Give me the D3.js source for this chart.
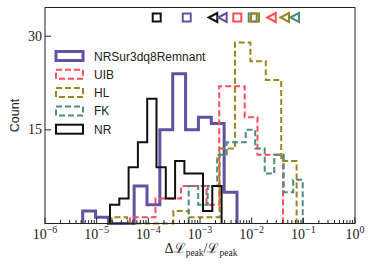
<!DOCTYPE html>
<html>
<head>
<meta charset="utf-8">
<script src="https://cdn.jsdelivr.net/npm/d3@7"></script>
<style>
  body { margin: 0; background: #fff; }
  svg { display: block; }
</style>
</head>
<body>
<svg id="chart" width="374" height="270"></svg>
<script>
// histogram bins: log10 of first / last edge, then counts per bin
const nrsurRange = [-5.27, -2.284]
const nrsurCounts = [2, 1, 0, 0, 6, 3, 15, 24, 15, 17, 16, 5]
const uibRange = [-4.355, -1.394]
const uibCounts = [1, 1, 4, 4, 6, 6, 3, 22, 22, 17, 11, 11]
const hlRange = [-4.709, -1.13]
const hlCounts = [1, 0, 0, 0, 2, 1, 1, 12, 29, 26, 23, 10]
const fkRange = [-3.219, -1.012]
const fkCounts = [6, 3, 6, 11, 13, 13, 15, 12, 8, 11, 5, 7]
const nrRange = [-4.742, -2.582]
const nrCounts = [3, 4, 9, 13, 20, 9, 4, 10, 8, 8, 2, 6]

// summary markers along the top (log10 values)
const squareNames = ['NR', 'NRSur3dq8Remnant', 'UIB', 'FK', 'HL']
const squareVals = [-3.838, -3.257, -2.278, -1.98, -1.935]
const triNames = ['NR', 'NRSur3dq8Remnant', 'UIB', 'HL', 'FK']
const triVals = [-2.743, -2.561, -1.612, -1.355, -1.161]

const legendNames = ['NRSur3dq8Remnant', 'UIB', 'HL', 'FK', 'NR']
const xTickExps = [-6, -5, -4, -3, -2, -1, 0]
const yTicks = [15, 30]

const styles = {
    'NRSur3dq8Remnant': { color: '#6152a3', width: 3, dash: null },
    'UIB': { color: '#ff4d5e', width: 2, dash: '6,3' },
    'HL': { color: '#9c851c', width: 2, dash: '6,3' },
    'FK': { color: '#4b8d79', width: 2, dash: '6,3' },
    'NR': { color: '#111111', width: 2, dash: null }
}

const series = [
    { name: 'NRSur3dq8Remnant', range: nrsurRange, counts: nrsurCounts },
    { name: 'UIB', range: uibRange, counts: uibCounts },
    { name: 'HL', range: hlRange, counts: hlCounts },
    { name: 'FK', range: fkRange, counts: fkCounts },
    { name: 'NR', range: nrRange, counts: nrCounts }
]

const plotL = 45, plotR = 355, plotT = 7.5, plotB = 223.5
const svg = d3.select('#chart')

const x = d3.scaleLog().domain([1e-6, 1]).range([plotL, plotR])
const y = d3.scaleLinear().domain([0, 34.6]).range([plotB, plotT])

// step outline of each histogram
series.forEach(function (s) {
    const n = s.counts.length
    const step = (s.range[1] - s.range[0]) / n
    const pts = [[s.range[0], 0]]
    s.counts.forEach(function (c, i) {
        const a = s.range[0] + i * step
        pts.push([a, c], [a + step, c])
    })
    pts.push([s.range[1], 0])
    const st = styles[s.name]
    svg.append('path')
        .attr('d', d3.line().x(d => x(Math.pow(10, d[0]))).y(d => y(d[1]))(pts))
        .attr('fill', 'none')
        .attr('stroke', st.color)
        .attr('stroke-width', st.width)
        .attr('stroke-dasharray', st.dash)
        .attr('stroke-linejoin', 'miter')
})

// frame
svg.append('rect')
    .attr('x', plotL).attr('y', plotT)
    .attr('width', plotR - plotL).attr('height', plotB - plotT)
    .attr('fill', 'none').attr('stroke', '#222').attr('stroke-width', 1)

// x ticks (inward), major + minor
const tickG = svg.append('g').attr('stroke', '#222').attr('stroke-width', 1)
xTickExps.forEach(function (e) {
    const xv = x(Math.pow(10, e))
    tickG.append('line').attr('x1', xv).attr('x2', xv).attr('y1', plotB).attr('y2', plotB - 6)
    if (e < 0) {
        for (let m = 2; m <= 9; m++) {
            const xm = x(m * Math.pow(10, e))
            tickG.append('line').attr('x1', xm).attr('x2', xm).attr('y1', plotB).attr('y2', plotB - 3.5)
        }
    }
})
yTicks.forEach(function (t) {
    tickG.append('line').attr('x1', plotL).attr('x2', plotL + 6).attr('y1', y(t)).attr('y2', y(t))
})

const serif = '"Liberation Serif", "DejaVu Serif", serif'
const sans = '"Liberation Sans", "DejaVu Sans", sans-serif'

xTickExps.forEach(function (e) {
    const t = svg.append('text')
        .attr('x', x(Math.pow(10, e)))
        .attr('y', 238.5)
        .attr('text-anchor', 'middle')
        .attr('font-family', serif)
        .attr('font-size', 14)
        .attr('fill', '#222')
    t.append('tspan').text('10')
    t.append('tspan').attr('dy', -6).attr('font-size', 10).text(e === 0 ? '0' : '\u2212' + (-e))
})

yTicks.forEach(function (t) {
    svg.append('text')
        .attr('x', 42).attr('y', y(t) + 4.5)
        .attr('text-anchor', 'end')
        .attr('font-family', serif)
        .attr('font-size', 14)
        .attr('fill', '#222')
        .text(t)
})

// axis labels
const xl = svg.append('text')
    .attr('x', 201).attr('y', 253)
    .attr('text-anchor', 'middle')
    .attr('font-family', serif)
    .attr('font-size', 14)
    .attr('fill', '#222')
xl.append('tspan').text('\u0394\u2112')
xl.append('tspan').attr('dy', 3).attr('font-size', 9.5).text('peak')
xl.append('tspan').attr('dy', -3).text('/\u2112')
xl.append('tspan').attr('dy', 3).attr('font-size', 9.5).text('peak')

svg.append('text')
    .attr('transform', 'translate(19,115.5) rotate(-90)')
    .attr('text-anchor', 'middle')
    .attr('font-family', sans)
    .attr('font-size', 12.5)
    .attr('fill', '#222')
    .text('Count')

// legend
legendNames.forEach(function (name, i) {
    const st = styles[name]
    const cy = 56 + i * 18.3
    svg.append('rect')
        .attr('x', 56).attr('y', cy - 4.5)
        .attr('width', 27).attr('height', 9)
        .attr('fill', 'none')
        .attr('stroke', st.color)
        .attr('stroke-width', st.width)
        .attr('stroke-dasharray', st.dash)
    svg.append('text')
        .attr('x', 94).attr('y', cy + 4.5)
        .attr('font-family', sans)
        .attr('font-size', 12)
        .attr('fill', '#222')
        .text(name)
})

// markers along the top
const my = 17.5
squareNames.forEach(function (name, i) {
    svg.append('rect')
        .attr('x', x(Math.pow(10, squareVals[i])) - 4).attr('y', my - 4)
        .attr('width', 8).attr('height', 8)
        .attr('fill', 'none')
        .attr('stroke', styles[name].color)
        .attr('stroke-width', 2)
})
triNames.forEach(function (name, i) {
    const cx = x(Math.pow(10, triVals[i]))
    svg.append('path')
        .attr('d', 'M' + (cx - 4.5) + ',' + my + 'L' + (cx + 4) + ',' + (my - 4.5) + 'L' + (cx + 4) + ',' + (my + 4.5) + 'Z')
        .attr('fill', 'none')
        .attr('stroke', styles[name].color)
        .attr('stroke-width', 2)
        .attr('stroke-linejoin', 'miter')
})
</script>
</body>
</html>
